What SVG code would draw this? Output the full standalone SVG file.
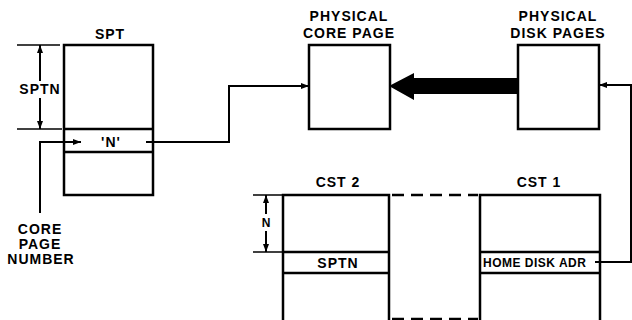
<svg xmlns="http://www.w3.org/2000/svg" width="632" height="320" viewBox="0 0 632 320">
<defs>
<style>
.box{fill:none;stroke:#000;stroke-width:2.5}
.ln{fill:none;stroke:#000;stroke-width:2}
.thin{fill:none;stroke:#000;stroke-width:1.5}
.dash{fill:none;stroke:#000;stroke-width:2.5;stroke-dasharray:12 7}
text{font-family:"Liberation Sans",Arial,sans-serif;font-weight:bold;font-size:14px;letter-spacing:1px;fill:#000}
.mid{text-anchor:middle}
.sm{font-size:12px;letter-spacing:0.5px}
</style>
<marker id="ah" markerWidth="8" markerHeight="6" refX="8" refY="3" orient="auto" markerUnits="userSpaceOnUse">
<path d="M0,0 L8,3 L0,6 Z" fill="#000"/>
</marker>
</defs>
<rect width="632" height="320" fill="#fff"/>

<g id="spt">
<rect class="box" x="64" y="45" width="89" height="150"/>
<line class="box" x1="64" y1="129" x2="153" y2="129"/>
<line class="box" x1="64" y1="152" x2="153" y2="152"/>
<text class="mid" x="110" y="39">SPT</text>
<text class="mid" x="111" y="147">'N'</text>
</g>

<g id="sptn-dim">
<line class="thin" x1="17" y1="45" x2="60" y2="45"/>
<line class="thin" x1="17" y1="129" x2="62" y2="129"/>
<line class="ln" x1="40" y1="81" x2="40" y2="45" marker-end="url(#ah)"/>
<line class="ln" x1="40" y1="98" x2="40" y2="129" marker-end="url(#ah)"/>
<text class="mid" x="40" y="94">SPTN</text>
</g>

<g id="core-page-number">
<text class="mid" x="40" y="234">CORE</text>
<text class="mid" x="40" y="249">PAGE</text>
<text class="mid" x="41" y="264">NUMBER</text>
</g>

<g id="physical-core-page">
<rect class="box" x="309" y="45" width="81" height="84"/>
<text class="mid" x="349" y="21">PHYSICAL</text>
<text class="mid" x="349" y="38">CORE PAGE</text>
</g>

<g id="physical-disk-pages">
<rect class="box" x="518" y="45" width="81" height="84"/>
<text class="mid" x="558" y="21">PHYSICAL</text>
<text class="mid" x="558" y="38">DISK PAGES</text>
</g>

<g id="cst2">
<path class="box" d="M283,322 V195 H389 V322"/>
<line class="box" x1="283" y1="252" x2="389" y2="252"/>
<line class="box" x1="283" y1="273" x2="389" y2="273"/>
<text class="mid" x="338" y="187">CST 2</text>
<text class="mid" x="338" y="268">SPTN</text>
</g>

<g id="n-dim">
<line class="thin" x1="253" y1="195" x2="283" y2="195"/>
<line class="thin" x1="253" y1="252" x2="283" y2="252"/>
<line class="ln" x1="266" y1="214" x2="266" y2="195" marker-end="url(#ah)"/>
<line class="ln" x1="266" y1="231" x2="266" y2="252" marker-end="url(#ah)"/>
<text class="mid" x="266" y="227" style="font-size:12px;letter-spacing:0">N</text>
</g>

<g id="cst1">
<path class="box" d="M480,322 V195 H600 V322"/>
<line class="box" x1="480" y1="252" x2="600" y2="252"/>
<line class="box" x1="480" y1="273" x2="600" y2="273"/>
<text class="mid" x="539" y="187">CST 1</text>
<text class="sm" x="483" y="267">HOME DISK ADR</text>
</g>

<g id="connectors">
<line class="dash" x1="392" y1="195" x2="478" y2="195"/>
<line class="dash" x1="392" y1="319" x2="478" y2="319"/>
<path class="ln" d="M40,213 V142 H81" marker-end="url(#ah)"/>
<path class="ln" d="M146,142 H229 V86 H309" marker-end="url(#ah)"/>
<path class="ln" d="M595,262 H631 V85 H599" marker-end="url(#ah)"/>
<path d="M518,78 H414 V73 L389,86 L414,100 V94 H518 Z" fill="#000"/>
</g>
</svg>
